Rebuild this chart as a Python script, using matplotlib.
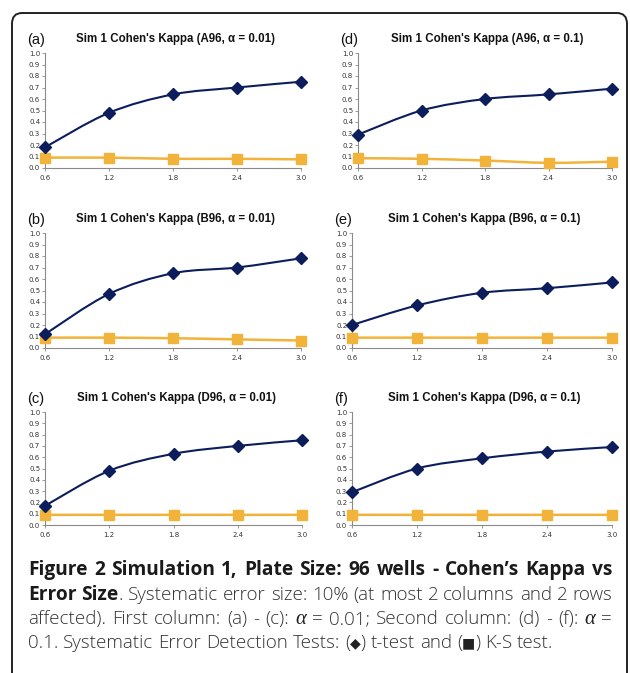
import numpy as np
import matplotlib
matplotlib.use('Agg')
import matplotlib.pyplot as plt
from matplotlib.path import Path
from matplotlib.patches import PathPatch, FancyBboxPatch

W, H = 630, 673

# error sizes (x axis)
ERR_SIZE = [0.6, 1.2, 1.8, 2.4, 3.0]
Y_TICKS = [0.0, 0.1, 0.2, 0.3, 0.4, 0.5, 0.6, 0.7, 0.8, 0.9, 1.0]

PANEL_LETTERS = ['(a)', '(d)', '(b)', '(e)', '(c)', '(f)']
PANEL_TITLES = [
    "Sim 1 Cohen's Kappa (A96, \u03b1 = 0.01)",
    "Sim 1 Cohen's Kappa (A96, \u03b1 = 0.1)",
    "Sim 1 Cohen's Kappa (B96, \u03b1 = 0.01)",
    "Sim 1 Cohen's Kappa (B96, \u03b1 = 0.1)",
    "Sim 1 Cohen's Kappa (D96, \u03b1 = 0.01)",
    "Sim 1 Cohen's Kappa (D96, \u03b1 = 0.1)",
]
# t-test (diamonds)
TTEST = [
    [0.18, 0.48, 0.64, 0.70, 0.75],
    [0.29, 0.50, 0.60, 0.64, 0.69],
    [0.12, 0.47, 0.65, 0.70, 0.78],
    [0.20, 0.37, 0.48, 0.52, 0.57],
    [0.17, 0.48, 0.63, 0.70, 0.75],
    [0.29, 0.50, 0.59, 0.65, 0.69],
]
# K-S test (squares)
KSTEST = [
    [0.090, 0.090, 0.080, 0.080, 0.075],
    [0.085, 0.080, 0.065, 0.045, 0.055],
    [0.090, 0.090, 0.085, 0.075, 0.065],
    [0.090, 0.090, 0.090, 0.090, 0.090],
    [0.090, 0.090, 0.090, 0.090, 0.090],
    [0.090, 0.090, 0.090, 0.090, 0.090],
]

# axes boxes in pixels: left, right, top(y=1.0), bottom(y=0.0)
BOXES = [
    (45, 301, 53, 168), (358, 612, 53, 168),
    (45, 301, 233, 348), (352, 612, 233, 348),
    (45, 302, 412, 525), (352, 612, 412, 525),
]

NAVY = '#0c1d5c'
ORANGE = '#f2b33a'


def smooth_path(xs, ys):
    # Excel-like smoothed line: Catmull-Rom converted to cubic Bezier
    pts = np.column_stack([xs, ys]).astype(float)
    verts = [pts[0]]
    codes = [Path.MOVETO]
    n = len(pts)
    for i in range(n - 1):
        p0 = pts[max(i - 1, 0)]
        p1 = pts[i]
        p2 = pts[i + 1]
        p3 = pts[min(i + 2, n - 1)]
        c1 = p1 + (p2 - p0) / 6.0
        c2 = p2 - (p3 - p1) / 6.0
        verts += [c1, c2, p2]
        codes += [Path.CURVE4] * 3
    return Path(verts, codes)


fig = plt.figure(figsize=(W / 100, H / 100), dpi=100)

# rounded outer frame
frame = FancyBboxPatch((12 / W, (H - 720) / H), (627 - 12) / W, (720 - 13) / H,
                       boxstyle='round,pad=0,rounding_size=0.016',
                       transform=fig.transFigure, fill=False,
                       ec='#222222', lw=1.4, clip_on=False)
fig.patches.append(frame)

for i in range(6):
    l, r, t, b = BOXES[i]
    ax = fig.add_axes([l / W, (H - b) / H, (r - l) / W, (b - t) / H])
    ax.add_patch(PathPatch(smooth_path(ERR_SIZE, TTEST[i]), fill=False,
                           ec=NAVY, lw=1.5, clip_on=False, zorder=3))
    ax.plot(ERR_SIZE, TTEST[i], ls='none', marker='D', ms=6.2,
            color=NAVY, clip_on=False, zorder=5)
    ax.add_patch(PathPatch(smooth_path(ERR_SIZE, KSTEST[i]), fill=False,
                           ec=ORANGE, lw=1.8, clip_on=False, zorder=2))
    ax.plot(ERR_SIZE, KSTEST[i], ls='none', marker='s', ms=6.5,
            color=ORANGE, clip_on=False, zorder=4)
    ax.set_xlim(0.6, 3.0)
    ax.set_ylim(0.0, 1.0)
    ax.set_xticks(ERR_SIZE)
    ax.set_xticklabels(['%.1f' % v for v in ERR_SIZE])
    ax.set_yticks(Y_TICKS)
    ax.set_yticklabels(['%.1f' % v for v in Y_TICKS])
    for s in ['top', 'right']:
        ax.spines[s].set_visible(False)
    for s in ['left', 'bottom']:
        ax.spines[s].set_color('#8a8a8a')
        ax.spines[s].set_linewidth(0.8)
    ax.tick_params(axis='both', labelsize=5.0, colors='#8a8a8a',
                   labelcolor='#333333', length=2, width=0.6, pad=1.5)
    ax.tick_params(axis='x', pad=3)
    ax.patch.set_alpha(0)

    fig.text((l - 18) / W, 1 - (t - 13) / H, PANEL_LETTERS[i],
             fontsize=10.5, family='Liberation Sans', color='#111111',
             ha='left', va='center')
    fig.text((l + r) / 2 / W + 0.004, 1 - (t - 14) / H, PANEL_TITLES[i],
             fontsize=8.3, fontweight='bold', family='Liberation Sans',
             color='#111111', ha='center', va='center')

# caption, justified
CAPTION = [
    [[('Figure', 'b')], [('2', 'b')], [('Simulation', 'b')], [('1,', 'b')],
     [('Plate', 'b')], [('Size:', 'b')], [('96', 'b')], [('wells', 'b')],
     [('-', 'b')], [('Cohen\u2019s', 'b')], [('Kappa', 'b')], [('vs', 'b')]],
    [[('Error', 'b')], [('Size', 'b'), ('.', 'r')], [('Systematic', 'r')],
     [('error', 'r')], [('size:', 'r')], [('10%', 'r')], [('(at', 'r')],
     [('most', 'r')], [('2', 'r')], [('columns', 'r')], [('and', 'r')],
     [('2', 'r')], [('rows', 'r')]],
    [[('affected).', 'r')], [('First', 'r')], [('column:', 'r')], [('(a)', 'r')],
     [('-', 'r')], [('(c):', 'r')], [('\u03b1', 'i')], [('=', 'r')],
     [('0.01;', 'r')], [('Second', 'r')], [('column:', 'r')], [('(d)', 'r')],
     [('-', 'r')], [('(f):', 'r')], [('\u03b1', 'i')], [('=', 'r')]],
    [[('0.1.', 'r')], [('Systematic', 'r')], [('Error', 'r')], [('Detection', 'r')],
     [('Tests:', 'r')], [('(', 'r'), ('\u25c6', 's'), (')', 'r')], [('t-test', 'r')],
     [('and', 'r')], [('(', 'r'), ('\u25a0', 's'), (')', 'r')], [('K-S', 'r')],
     [('test.', 'r')]],
]
LINE_BASE = [575, 600, 624, 648]
X0, X1 = 28, 612
LAST_LINE_END = 552

fig.canvas.draw()
renderer = fig.canvas.get_renderer()
SIZES = {'b': 12.0, 'r': 12.0}


def style_kw(st):
    if st == 'b':
        return dict(fontsize=SIZES['b'], family=['Open Sans', 'DejaVu Sans'],
                    fontweight='bold', color='#1a1a1a')
    if st == 'i':
        return dict(fontsize=SIZES['r'] * 1.1, family=['Liberation Serif', 'DejaVu Serif'],
                    style='italic', color='#222222')
    if st == 's':
        return dict(fontsize=SIZES['r'] * 0.75, family=['DejaVu Sans'],
                    color='#222222')
    return dict(fontsize=SIZES['r'], family=['Open Sans', 'DejaVu Sans'],
                fontweight='light', color='#333333')


def measure(txt, st):
    t = fig.text(0, 0, txt, **style_kw(st))
    w = t.get_window_extent(renderer).width
    t.remove()
    return w


def natural_width(words, st_space='r'):
    sp = measure('a a', st_space) - measure('aa', st_space)
    ws = [sum(measure(txt, st) for txt, st in word) for word in words]
    return sum(ws) + sp * (len(words) - 1)


# fit regular size so the (unjustified) last line ends where the reference does
w0 = natural_width(CAPTION[3])
SIZES['r'] = SIZES['r'] * (LAST_LINE_END - X0) / w0
# fit bold size so the first line fills the column with slightly loose spacing
w0 = natural_width(CAPTION[0], 'b')
SIZES['b'] = SIZES['b'] * (X1 - X0 - 14) / w0

for li, words in enumerate(CAPTION):
    ws = [sum(measure(txt, st) for txt, st in word) for word in words]
    if li < len(CAPTION) - 1:
        gap = (X1 - X0 - sum(ws)) / (len(words) - 1)
    else:
        gap = measure('a a', 'r') - measure('aa', 'r')
    x = X0
    y = 1 - LINE_BASE[li] / H
    for word, w in zip(words, ws):
        xx = x
        for txt, st in word:
            yy = y + (1.0 / H if st == 's' else 0)
            fig.text(xx / W, yy, txt, ha='left', va='baseline', **style_kw(st))
            xx += measure(txt, st)
        x += w + gap

fig.savefig('out.png', dpi=100)
